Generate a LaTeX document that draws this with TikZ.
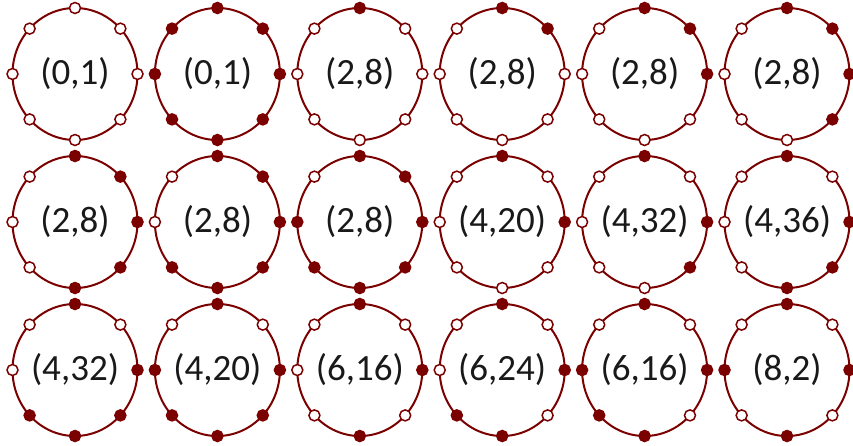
\documentclass[tikz,border=0pt]{standalone}
\usepackage{fontspec}
\setmainfont{Carlito}
\usetikzlibrary{shapes.geometric}
\definecolor{ringred}{RGB}{123,0,0}
\tikzset{
  ring/.style={draw=ringred, line width=2pt, ellipse, minimum width=125pt,
    minimum height=132pt, inner sep=0pt, outer sep=0pt, text=black!90,
    font=\fontsize{37}{44}\selectfont},
  dot0/.style={circle, draw=ringred, line width=1.5pt, fill=white,
    minimum size=11pt, inner sep=0pt},
  dot1/.style={dot0, fill=ringred},
}

\begin{document}
\begin{tikzpicture}[x=1pt, y=-1pt]
\useasboundingbox (0,0) rectangle (853,445);
% dots in the order: top, top right, right, ..., top left
\foreach \lab/\pat [count=\n from 0] in {
    {(0,1)}/{0,0,0,0,0,0,0,0}, {(0,1)}/{1,1,1,1,1,1,1,1},
    {(2,8)}/{1,0,0,0,0,0,0,0}, {(2,8)}/{1,1,0,0,0,0,0,0},
    {(2,8)}/{1,1,1,0,0,0,0,0}, {(2,8)}/{1,1,1,1,0,0,0,0},
    {(2,8)}/{1,1,1,1,1,0,0,0}, {(2,8)}/{1,1,1,1,1,1,0,0},
    {(2,8)}/{1,1,1,1,1,1,1,0}, {(4,20)}/{1,0,1,0,0,0,0,0},
    {(4,32)}/{1,0,1,1,0,0,0,0}, {(4,36)}/{1,0,1,1,1,0,0,0},
    {(4,32)}/{1,0,1,1,1,1,0,0}, {(4,20)}/{1,0,1,1,1,1,1,0},
    {(6,16)}/{1,0,1,0,1,0,0,0}, {(6,24)}/{1,0,1,0,1,1,0,0},
    {(6,16)}/{1,0,1,0,1,1,1,0}, {(8,2)}/{1,0,1,0,1,0,1,0}}{
  \pgfmathtruncatemacro\col{mod(\n,6)}
  \pgfmathtruncatemacro\row{floor(\n/6)}
  \node[ring] (ring-\n) at ({75+142.4*\col}, {74+148*\row}) {\lab};
  \foreach \s [count=\k] in \pat {
    \pgfmathtruncatemacro\ang{135-45*\k}
    \node[dot\s] (dot-\n-\k) at (ring-\n.\ang) {};
  }
}
\end{tikzpicture}
\end{document}
